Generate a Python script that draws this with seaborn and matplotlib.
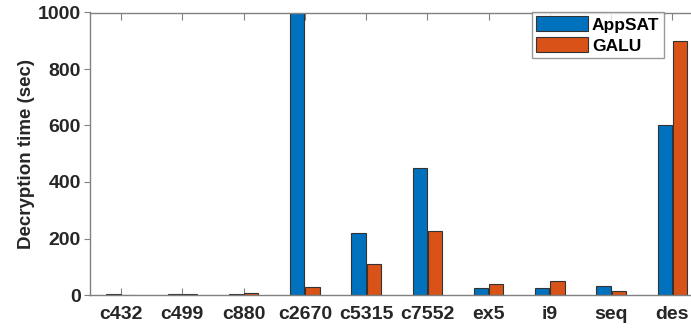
import matplotlib
matplotlib.use("Agg")
import matplotlib.pyplot as plt
import seaborn as sns
import pandas as pd

categories = ["c432", "c499", "c880", "c2670", "c5315", "c7552", "ex5", "i9", "seq", "des"]
appsat = [3, 5, 4, 1000, 220, 450, 26, 25, 32, 600]
galu = [0, 3, 6, 30, 108, 225, 40, 51, 13, 898]
series = ["AppSAT", "GALU"]
colors = ["#0072BD", "#D95319"]

df = pd.DataFrame({
    "bench": categories * 2,
    "time": appsat + galu,
    "method": [series[0]] * len(categories) + [series[1]] * len(categories),
})

sns.set_style("white")
plt.rcParams["font.family"] = ["Liberation Sans", "DejaVu Sans"]
plt.rcParams["font.weight"] = "bold"

fig = plt.figure(figsize=(6.91, 3.29), dpi=100)
ax = fig.add_axes([90.5 / 691, 1 - 295 / 329, (703 - 90.5) / 691, (295 - 12.5) / 329])

sns.barplot(data=df, x="bench", y="time", hue="method", palette=colors,
            width=0.5, gap=0.08, ax=ax, edgecolor="#333333", linewidth=0.8,
            saturation=1, legend=True)

ax.set_ylim(0, 1000)
ax.set_xlim(-0.5, len(categories) - 0.5)
ax.set_yticks([0, 200, 400, 600, 800, 1000])
ax.set_xlabel("")
ax.set_ylabel("Decryption time (sec)", fontsize=13.5, fontweight="bold", color="#262626", labelpad=2)
for lab in ax.get_xticklabels() + ax.get_yticklabels():
    lab.set_fontsize(14)
    lab.set_fontweight("bold")
    lab.set_color("#262626")

for s in ax.spines.values():
    s.set_visible(True)
    s.set_color("#808080")
    s.set_linewidth(1.0)

ax.tick_params(axis="y", direction="out", length=4, color="#808080", left=True, right=False, pad=3)
ax.tick_params(axis="x", direction="in", length=5, color="#808080", bottom=True, top=True, pad=8)

ax.get_legend().remove()
handles = [plt.Rectangle((0, 0), 1, 1, facecolor=c, edgecolor="#333333", linewidth=0.8) for c in colors]
leg = fig.legend(handles, series, loc="upper left",
                 bbox_to_anchor=(532 / 691, 1 - 11.5 / 329), bbox_transform=fig.transFigure,
                 borderaxespad=0, frameon=True, fancybox=False, shadow=False,
                 prop={"size": 12.5, "weight": "bold"}, handlelength=3.0, handleheight=1.0,
                 handletextpad=0.2, labelspacing=0.25, borderpad=0.25)
leg.get_frame().set_edgecolor("#808080")
leg.get_frame().set_linewidth(1.0)
for t in leg.get_texts():
    t.set_color("black")

fig.savefig("out.png", dpi=100)
